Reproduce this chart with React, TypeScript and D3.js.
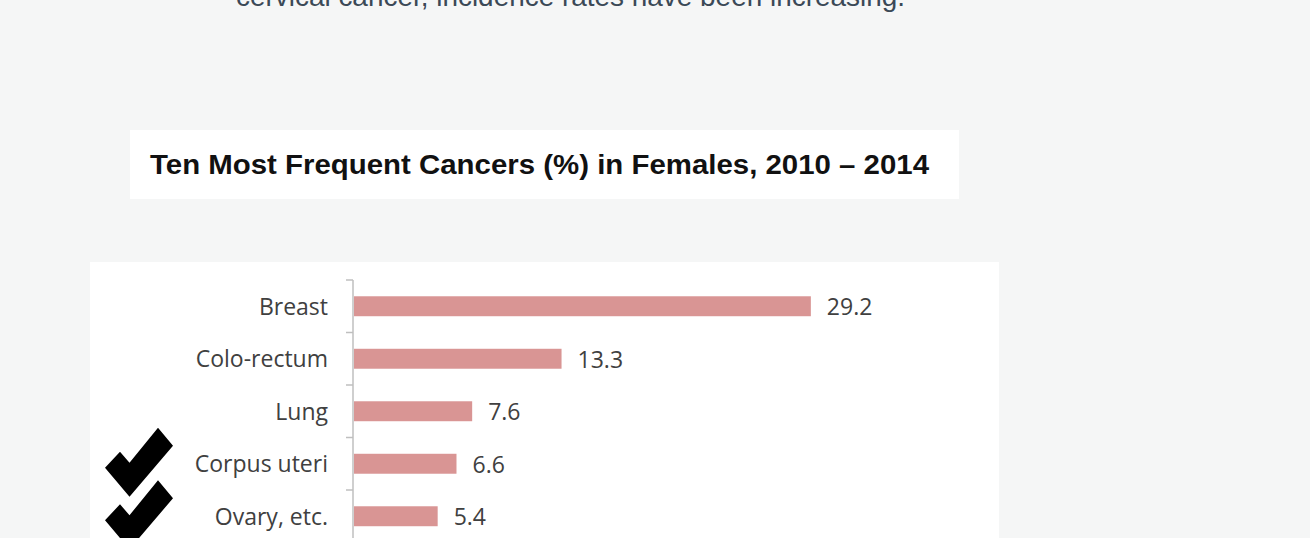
import React, { useEffect, useRef } from 'react';
import * as d3 from 'd3';

const categories = ['Breast', 'Colo-rectum', 'Lung', 'Corpus uteri', 'Ovary, etc.'];
const percents = [29.2, 13.3, 7.6, 6.6, 5.4];
const checkedRows = ['Corpus uteri', 'Ovary, etc.'];

const introText = 'cervical cancer, incidence rates have been increasing.';
const chartTitle = 'Ten Most Frequent Cancers (%) in Females, 2010 \u2013 2014';

const W = 1310;
const H = 538;

const App: React.FC = () => {
  const svgRef = useRef<SVGSVGElement>(null);

  useEffect(() => {
    if (!svgRef.current) return;
    document.body.style.margin = '0';

    const svg = d3.select(svgRef.current)
      .attr('width', W)
      .attr('height', H);

    svg.selectAll('*').remove();

    svg.append('rect')
      .attr('width', W)
      .attr('height', H)
      .attr('fill', '#f5f6f6');

    // cut-off paragraph line at the very top
    svg.append('text')
      .attr('x', 236)
      .attr('y', 6)
      .attr('textLength', 669)
      .attr('lengthAdjust', 'spacingAndGlyphs')
      .style('font-family', '"Liberation Sans", Arial, sans-serif')
      .style('font-size', '28px')
      .style('fill', '#3b4957')
      .text(introText);

    // title box
    svg.append('rect')
      .attr('x', 130)
      .attr('y', 130)
      .attr('width', 829)
      .attr('height', 69)
      .attr('fill', '#ffffff');

    svg.append('text')
      .attr('x', 150)
      .attr('y', 174)
      .attr('textLength', 779)
      .attr('lengthAdjust', 'spacingAndGlyphs')
      .style('font-family', '"Liberation Sans", Arial, sans-serif')
      .style('font-weight', 'bold')
      .style('font-size', '27px')
      .style('fill', '#111111')
      .text(chartTitle);

    // chart box
    svg.append('rect')
      .attr('x', 90)
      .attr('y', 262)
      .attr('width', 909)
      .attr('height', H - 262)
      .attr('fill', '#ffffff');

    const y = d3.scaleBand<string>()
      .domain(categories)
      .range([280, 280 + categories.length * 52.5])
      .paddingInner(0.62)
      .paddingOuter(0.31);

    const x = d3.scaleLinear()
      .domain([0, 30])
      .range([353, 353 + 30 * 15.68]);

    const gap = (y.step() - y.bandwidth()) / 2;
    const boundaries = categories.map(c => (y(c) as number) - gap);
    boundaries.push((y(categories[categories.length - 1]) as number) + y.bandwidth() + gap);

    const g = svg.append('g');

    g.append('line')
      .attr('x1', x(0))
      .attr('x2', x(0))
      .attr('y1', boundaries[0])
      .attr('y2', boundaries[boundaries.length - 1])
      .attr('stroke', '#bfbfbf')
      .attr('stroke-width', 1.5);

    g.selectAll('line.tick')
      .data(boundaries)
      .join('line')
      .attr('class', 'tick')
      .attr('x1', x(0) - 7)
      .attr('x2', x(0))
      .attr('y1', d => d)
      .attr('y2', d => d)
      .attr('stroke', '#bfbfbf')
      .attr('stroke-width', 1.5);

    const rows = g.selectAll('g.row')
      .data(categories.map((c, i) => ({ name: c, value: percents[i] })))
      .join('g')
      .attr('class', 'row');

    rows.append('rect')
      .attr('x', x(0) + 1)
      .attr('y', d => y(d.name) as number)
      .attr('width', d => x(d.value) - x(0) - 1)
      .attr('height', y.bandwidth())
      .attr('fill', '#d99594');

    rows.append('text')
      .attr('x', x(0) - 25)
      .attr('y', d => (y(d.name) as number) + y.bandwidth() / 2)
      .attr('dy', '0.36em')
      .attr('text-anchor', 'end')
      .style('font-family', '"Open Sans", sans-serif')
      .style('font-size', '23px')
      .style('fill', '#404040')
      .text(d => d.name);

    rows.append('text')
      .attr('x', d => x(d.value) + 16)
      .attr('y', d => (y(d.name) as number) + y.bandwidth() / 2)
      .attr('dy', '0.4em')
      .style('font-family', '"Open Sans", sans-serif')
      .style('font-size', '23px')
      .style('fill', '#404040')
      .text(d => d.value.toFixed(1));

    // heavy check marks next to highlighted rows
    const checkShape = 'M-34,5.5 L-19,-10.5 L-9.5,0.5 L19,-34.5 L34,-16.5 L-9.5,34.5 Z';
    svg.selectAll('path.check')
      .data(checkedRows)
      .join('path')
      .attr('class', 'check')
      .attr('transform', d => `translate(139,${(y(d) as number) + y.bandwidth() / 2 - 1.5})`)
      .attr('d', checkShape)
      .attr('fill', '#000000');
  }, []);

  return <svg ref={svgRef} style={{ display: 'block' }} />;
};

export default App;
